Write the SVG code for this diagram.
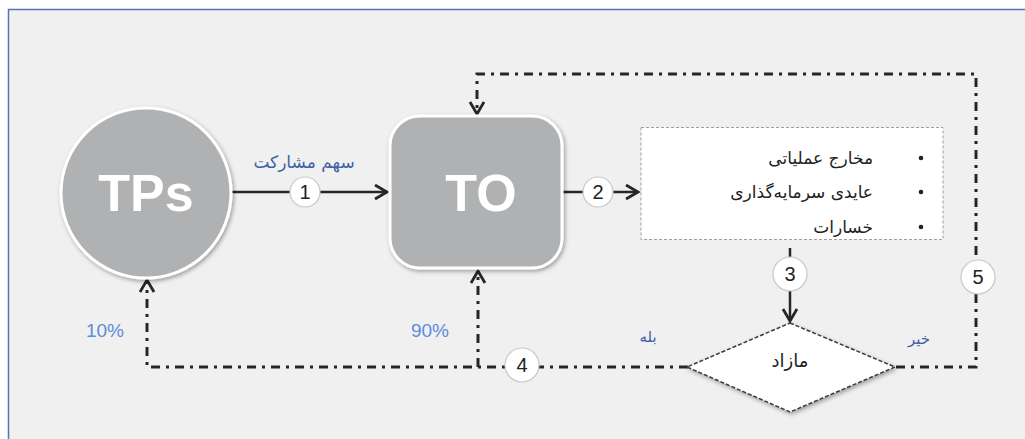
<svg xmlns="http://www.w3.org/2000/svg" width="1025" height="439" viewBox="0 0 1025 439">
<defs>
<style>
.fa{font-family:"DejaVu Sans","Noto Sans",sans-serif;}
.lat{font-family:"Liberation Sans",Arial,sans-serif;}
.solid{fill:none;stroke:#262626;stroke-width:2.5;}
.dd{fill:none;stroke:#262626;stroke-width:3;stroke-dasharray:9 6 3 6;}
.num{fill:#fff;stroke:#c8c8c8;stroke-width:1.2;}
.numt{font-family:"Liberation Sans",Arial,sans-serif;font-size:20px;fill:#222;text-anchor:middle;}
.blue{fill:#3f61a6;}
.pct{fill:#5d8bd8;font-family:"Liberation Sans",Arial,sans-serif;font-size:19px;}
</style>
<marker id="arr" markerUnits="userSpaceOnUse" markerWidth="16" markerHeight="18" refX="13" refY="8" orient="auto" viewBox="0 0 16 18">
<path d="M1,1 L13,8 L1,15" fill="none" stroke="#262626" stroke-width="2.8"/>
</marker>
<filter id="sh" x="-20%" y="-20%" width="140%" height="140%">
<feDropShadow dx="1.5" dy="2" stdDeviation="2" flood-color="#000" flood-opacity="0.35"/>
</filter>
</defs>
<rect x="0" y="0" width="1025" height="439" fill="#ffffff"/>
<rect x="8.5" y="9.5" width="1030" height="440" fill="#f0f0f0" stroke="#4f76bf" stroke-width="1.5"/>

<g id="connectors">
<line class="solid" x1="232" y1="192" x2="387" y2="192" marker-end="url(#arr)"/>
<line class="solid" x1="563" y1="192" x2="638" y2="192" marker-end="url(#arr)"/>
<line class="solid" x1="790" y1="248" x2="790" y2="321" marker-end="url(#arr)"/>
<polyline class="dd" points="688,367 147,367 147,280" marker-end="url(#arr)"/>
<line class="dd" x1="478" y1="367" x2="478" y2="271" marker-end="url(#arr)"/>
<polyline class="dd" points="896,367 976,367 976,74 477,74 477,114" marker-end="url(#arr)"/>
</g>

<g id="labels">
<text class="fa blue" x="304" y="168" font-size="17" text-anchor="middle">سهم مشارکت</text>
<text class="pct" x="105" y="337" text-anchor="middle">10%</text>
<text class="pct" x="430" y="337" text-anchor="middle">90%</text>
<text class="fa blue" x="648" y="342" font-size="15" text-anchor="middle">بله</text>
<text class="fa blue" x="919" y="344" font-size="15" text-anchor="middle">خیر</text>
</g>

<g id="node-TPs">
<circle cx="146" cy="193" r="85" fill="#b0b1b3" stroke="#ffffff" stroke-width="3" filter="url(#sh)"/>
<text x="146" y="211" font-family="Liberation Sans,Arial,sans-serif" font-weight="bold" font-size="52" fill="#ffffff" text-anchor="middle">TPs</text>
</g>

<g id="node-TO">
<rect x="390" y="116" width="172" height="152" rx="30" fill="#b0b1b3" stroke="#ffffff" stroke-width="3" filter="url(#sh)"/>
<text x="481" y="211" font-family="Liberation Sans,Arial,sans-serif" font-weight="bold" font-size="52" fill="#ffffff" text-anchor="middle">TO</text>
</g>

<g id="node-costs">
<rect x="641" y="127.5" width="302" height="112" fill="#ffffff" stroke="#a0a0a0" stroke-width="1" stroke-dasharray="3 2"/>
<circle cx="921" cy="158" r="2.3" fill="#222"/>
<circle cx="921" cy="192" r="2.3" fill="#222"/>
<circle cx="921" cy="227" r="2.3" fill="#222"/>
<text class="fa" x="873" y="164" font-size="17" fill="#222" text-anchor="end">مخارج عملیاتی</text>
<text class="fa" x="873" y="198" font-size="17" fill="#222" text-anchor="end">عایدی سرمایه‌گذاری</text>
<text class="fa" x="873" y="233" font-size="17" fill="#222" text-anchor="end">خسارات</text>
</g>

<g id="node-surplus">
<polygon points="790,323 895,367 790,412 687,367" fill="#ffffff" stroke="#3a3a3a" stroke-width="1.5" stroke-dasharray="4 2" filter="url(#sh)"/>
<text class="fa" x="790" y="367" font-size="18" fill="#222" text-anchor="middle">مازاد</text>
</g>

<g id="badges">
<circle class="num" cx="305" cy="192" r="15"/>
<text class="numt" x="305" y="199">1</text>
<circle class="num" cx="598" cy="192" r="15"/>
<text class="numt" x="598" y="199">2</text>
<circle class="num" cx="790" cy="274" r="17"/>
<text class="numt" x="790" y="281">3</text>
<circle class="num" cx="522" cy="365" r="17"/>
<text class="numt" x="522" y="372">4</text>
<circle class="num" cx="978" cy="277" r="17"/>
<text class="numt" x="978" y="284">5</text>
</g>
</svg>
